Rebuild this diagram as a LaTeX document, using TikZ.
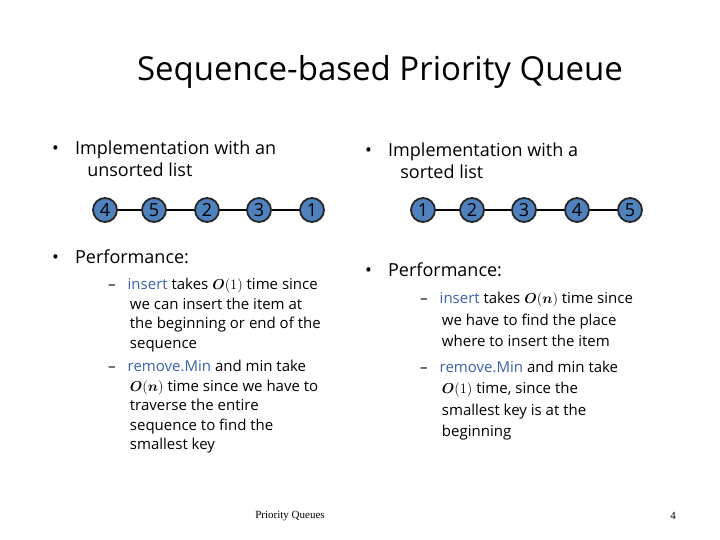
\documentclass[tikz,border=0pt]{standalone}
\usepackage{amsmath,bm}
\usepackage{fontspec}
\setmainfont{Open Sans}
\newfontfamily\serifn{Liberation Serif}
\definecolor{nodeblue}{HTML}{4F81BD}
\definecolor{kw}{HTML}{3A62A8}
\begin{document}
\begin{tikzpicture}[x=1pt,y=-1pt,
  pq/.style={circle,draw=black!85,line width=1.8pt,fill=nodeblue,minimum size=24pt,inner sep=0pt,font=\fontsize{18}{18}\selectfont},
  lk/.style={line width=1.6pt},
  bul/.style={anchor=north west,align=left,font=\fontsize{18}{22}\selectfont,inner sep=0},
  subl/.style={anchor=north west,align=left,font=\fontsize{15}{19.5}\selectfont,inner sep=0},
  subr/.style={anchor=north west,align=left,font=\fontsize{15}{21.5}\selectfont,inner sep=0}]
\useasboundingbox (0,0) rectangle (720,540);
\node[font=\fontsize{33}{33}\selectfont] (title) at (380,72) {Sequence-based Priority Queue};
% left
\node[bul] (lb1) at (52,141) {\textbullet\hspace{0.9em}Implementation with an\\\hspace{1.95em}unsorted list};
\foreach \v/\x [count=\i] in {4/105,5/154,2/207,3/259,1/312}
  \node[pq] (l\i) at (\x,210) {\v};
\draw[lk] (l1)--(l2) (l2)--(l3) (l3)--(l4) (l4)--(l5);
\node[bul] (lb2) at (52,250) {\textbullet\hspace{0.9em}Performance:};
\node[subl] (ls1) at (108,278) {\textendash\hspace{0.8em}\textcolor{kw}{insert} takes $\bm{O}(1)$ time since\\\hspace{1.45em}we can insert the item at\\\hspace{1.45em}the beginning or end of the\\\hspace{1.45em}sequence\\[4pt]\textendash\hspace{0.8em}\textcolor{kw}{remove.Min} and min take\\\hspace{1.45em}$\bm{O}(\bm{n})$ time since we have to\\\hspace{1.45em}traverse the entire\\\hspace{1.45em}sequence to find the\\\hspace{1.45em}smallest key};
% right
\node[bul] (rb1) at (365,143) {\textbullet\hspace{0.9em}Implementation with a\\\hspace{1.95em}sorted list};
\foreach \v/\x [count=\i] in {1/423,2/472,3/524,4/577,5/630}
  \node[pq] (r\i) at (\x,210) {\v};
\draw[lk] (r1)--(r2) (r2)--(r3) (r3)--(r4) (r4)--(r5);
\node[bul] (rb2) at (365,263) {\textbullet\hspace{0.9em}Performance:};
\node[subr] (rs1) at (420,292) {\textendash\hspace{0.8em}\textcolor{kw}{insert} takes $\bm{O}(\bm{n})$ time since\\\hspace{1.45em}we have to find the place\\\hspace{1.45em}where to insert the item\\[4pt]\textendash\hspace{0.8em}\textcolor{kw}{remove.Min} and min take\\\hspace{1.45em}$\bm{O}(1)$ time, since the\\\hspace{1.45em}smallest key is at the\\\hspace{1.45em}beginning};
\node[font=\serifn\fontsize{11}{11}\selectfont] (foot) at (290,516) {Priority Queues};
\node[font=\serifn\fontsize{11}{11}\selectfont] (pg) at (673,516) {4};
\end{tikzpicture}
\end{document}
